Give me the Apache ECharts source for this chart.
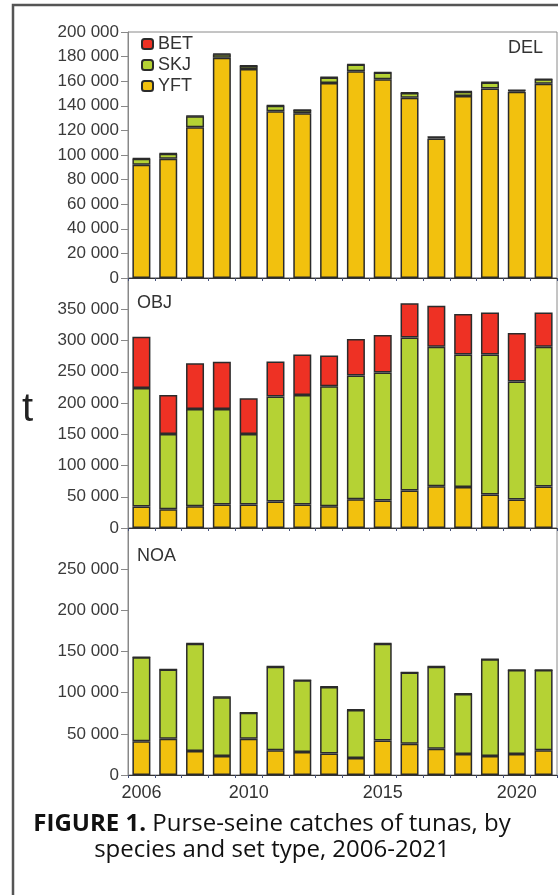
<!DOCTYPE html>
<html><head><meta charset="utf-8">
<script src="https://cdn.jsdelivr.net/npm/echarts@6/dist/echarts.min.js"></script>
<style>html,body{margin:0;padding:0;background:#fff}#c{width:558px;height:895px}</style>
</head><body><div id="c"></div>
<script>
const years = ['2006','2007','2008','2009','2010','2011','2012','2013','2014','2015','2016','2017','2018','2019','2020','2021'];
const labelYears = ['2006','2010','2015','2020'];
const panelNames = ['DEL','OBJ','NOA'];
const speciesNames = ['BET','SKJ','YFT'];

const delYFT = [92000, 97000, 122500, 179000, 170000, 135500, 134000, 158500, 168000, 161500, 146500, 113500, 148000, 154000, 151500, 158000];
const delSKJ = [5000, 4000, 9000, 3000, 2500, 4500, 2500, 4500, 5500, 5500, 4000, 1000, 3500, 5000, 1000, 3500];
const delBET = [400, 300, 300, 400, 300, 300, 200, 300, 300, 300, 300, 300, 200, 300, 300, 300];

const objYFT = [34500, 30000, 35000, 37500, 37500, 42500, 37500, 35000, 46000, 44000, 60000, 67000, 65500, 53500, 45500, 66500];
const objSKJ = [189500, 120500, 155500, 153000, 113000, 168000, 175500, 192000, 198000, 205000, 245000, 223000, 212000, 224000, 189000, 223500];
const objBET = [82000, 62500, 73000, 75500, 57000, 56000, 64500, 49000, 58500, 60000, 54500, 65500, 65000, 67500, 77500, 55000];

const noaYFT = [41000, 44000, 29000, 23000, 44000, 30000, 28000, 26000, 20500, 42000, 38000, 32000, 25500, 23000, 25500, 30000];
const noaSKJ = [102000, 84000, 130500, 71500, 31500, 101500, 87000, 81000, 58500, 117500, 86500, 99500, 73000, 117500, 102000, 97500];
const noaBET = [300, 200, 300, 200, 200, 300, 200, 200, 200, 300, 200, 300, 200, 200, 200, 200];

const yMax = [200000, 400000, 300000];
const yInterval = [20000, 50000, 50000];

const colors = {YFT:'#F2C10E', SKJ:'#B5D234', BET:'#EE3124'};
const font = 'Liberation Sans, Arial, sans-serif';
const fmt = v => String(v).replace(/\B(?=(\d{3})+(?!\d))/g, ' ');

const grids = [
  {left:128, right:1, top:32, height:246},
  {left:128, right:1, top:278, height:250},
  {left:128, right:1, top:528, height:247}
].map(g => Object.assign(g, {show:true, borderColor:'#8a8a8a', borderWidth:1, containLabel:false}));

const xAxes = [0,1,2].map(i => ({
  type:'category', gridIndex:i, data:years, boundaryGap:true,
  axisLine:{lineStyle:{color:'#333', width:1}},
  axisTick:{show:true, interval:0, alignWithLabel:false, length:3, lineStyle:{color:'#44507a'}},
  axisLabel:{show:i===2, interval:(idx, val) => labelYears.includes(val), fontSize:18, fontFamily:font, color:'#333', margin:9}
}));

const yAxes = [0,1,2].map(i => ({
  type:'value', gridIndex:i, min:0, max:yMax[i], interval:yInterval[i],
  splitLine:{show:false},
  axisLine:{show:true, lineStyle:{color:'#888'}},
  axisTick:{show:true, length:7, lineStyle:{color:'#888'}},
  axisLabel:{fontSize:17, fontFamily:font, color:'#3a3a3a', margin:9,
    formatter: v => (v >= yMax[i] && i > 0) ? '' : fmt(v)}
}));

const panelData = [
  {YFT:delYFT, SKJ:delSKJ, BET:delBET},
  {YFT:objYFT, SKJ:objSKJ, BET:objBET},
  {YFT:noaYFT, SKJ:noaSKJ, BET:noaBET}
];
const series = [];
panelData.forEach((pd, i) => {
  ['YFT','SKJ','BET'].forEach(sp => {
    series.push({
      name:sp, type:'bar', stack:panelNames[i], xAxisIndex:i, yAxisIndex:i,
      data:pd[sp], barWidth:18,
      itemStyle:{color:colors[sp], borderColor:'#2b2b2b', borderWidth:1.5},
      emphasis:{disabled:true}, animation:false
    });
  });
});

const chart = echarts.init(document.getElementById('c'), null, {renderer:'canvas'});
chart.setOption({
  animation:false,
  backgroundColor:'#fff',
  grid:grids, xAxis:xAxes, yAxis:yAxes, series:series,
  legend:{data:speciesNames, orient:'vertical', left:141, top:35, padding:0, itemGap:3,
    itemWidth:11, itemHeight:10, selectedMode:false,
    textStyle:{fontSize:18, fontFamily:font, color:'#333', lineHeight:18}},
  graphic:[
    {type:'rect', shape:{x:13, y:5, width:570, height:920}, style:{fill:'none', stroke:'#555', lineWidth:2.5}, z:100},
    {type:'text', right:15, top:39, style:{text:panelNames[0], fontSize:18, fontFamily:font, fill:'#333'}},
    {type:'text', left:137, top:294, style:{text:panelNames[1], fontSize:18, fontFamily:font, fill:'#333'}},
    {type:'text', left:137, top:547, style:{text:panelNames[2], fontSize:18, fontFamily:font, fill:'#333'}},
    {type:'text', x:27.5, y:410, style:{text:'t', fontSize:40, fontFamily:font, fill:'#222', align:'center', verticalAlign:'middle'}},
    {type:'text', x:272, y:837, style:{
      text:'{b|FIGURE 1.}{n| Purse-seine catches of tunas, by}\n{n|species and set type, 2006-2021}',
      align:'center', verticalAlign:'middle', fontFamily:'Open Sans', fontSize:24, fill:'#111',
      rich:{b:{fontWeight:'bold', fontFamily:'Open Sans', fontSize:24, lineHeight:26, fill:'#111'},
            n:{fontFamily:'Open Sans', fontSize:24, lineHeight:26, fill:'#111'}}}}
  ]
});
</script></body></html>
